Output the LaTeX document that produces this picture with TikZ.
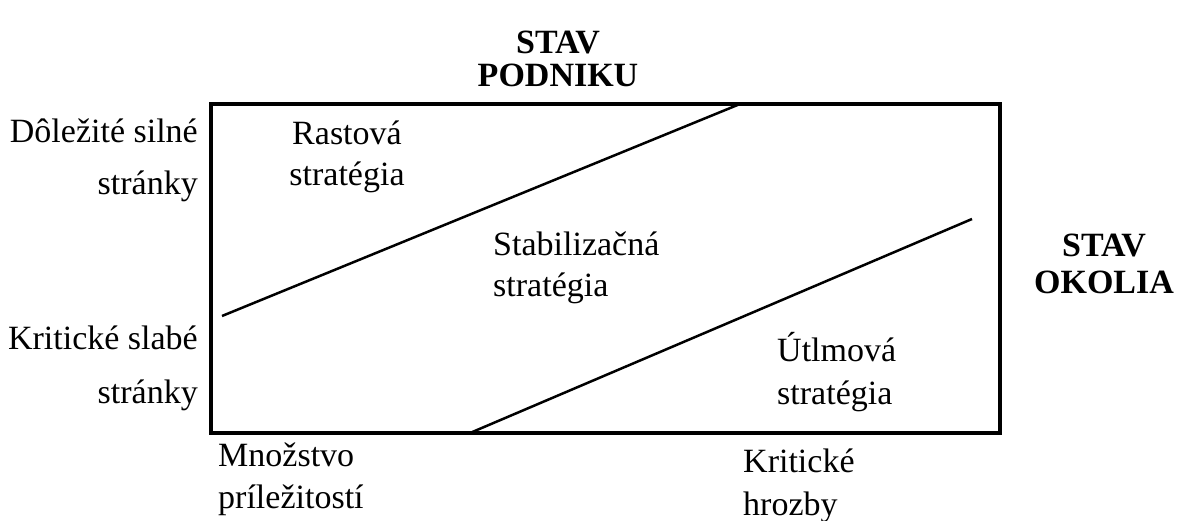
\documentclass[tikz,border=0pt]{standalone}
\usepackage{fontspec}
\setmainfont{Liberation Serif}
\begin{document}
\begin{tikzpicture}[x=1pt,y=-1pt,
  lbl/.style={inner sep=0pt,anchor=base,font=\fontsize{34}{40}\selectfont},
  lblw/.style={lbl,anchor=base west},
  lble/.style={lbl,anchor=base east},
  hd/.style={lbl,font=\fontsize{34}{40}\selectfont\bfseries},
  frame/.style={line width=3.5pt},
  div/.style={line width=2.5pt}]
\useasboundingbox (0,0) rectangle (1189,521);
\draw[frame] (211,104) coordinate (tl) rectangle (1000,433) coordinate (br);
\coordinate (a1) at (222,316);
\coordinate (a2) at (740,104);
\coordinate (b1) at (470,433);
\coordinate (b2) at (972,219);
\draw[div] (a1) -- (a2);
\draw[div] (b1) -- (b2);
\node[hd] (t1) at (558,54) {STAV};
\node[hd] (t2) at (558,87) {PODNIKU};
\node[hd] (r1) at (1104,257) {STAV};
\node[hd] (r2) at (1104,294) {OKOLIA};
\node[lble] (l1) at (198,143) {Dôležité silné};
\node[lble] (l2) at (198,195) {stránky};
\node[lble] (l3) at (198,350) {Kritické slabé};
\node[lble] (l4) at (198,403) {stránky};
\node[lbl] (g1) at (347,145) {Rastová};
\node[lbl] (g2) at (347,186) {stratégia};
\node[lblw] (s1) at (493,256) {Stabilizačná};
\node[lblw] (s2) at (493,297) {stratégia};
\node[lblw] (u1) at (777,362) {Útlmová};
\node[lblw] (u2) at (777,404) {stratégia};
\node[lblw] (m1) at (218,466) {Množstvo};
\node[lblw] (m2) at (218,508) {príležitostí};
\node[lblw] (k1) at (743,472) {Kritické};
\node[lblw] (k2) at (743,515) {hrozby};
\end{tikzpicture}
\end{document}
